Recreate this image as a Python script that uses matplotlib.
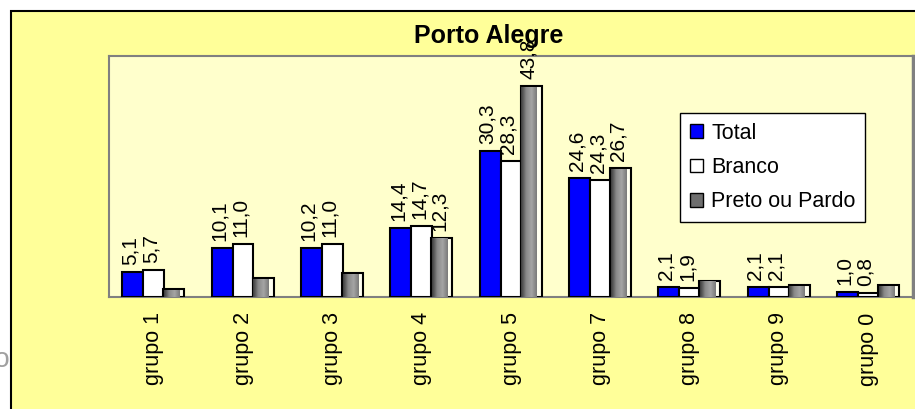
import numpy as np
import matplotlib.pyplot as plt
from matplotlib.colors import LinearSegmentedColormap
from matplotlib.patches import Rectangle, Patch

grupos = ['grupo 1', 'grupo 2', 'grupo 3', 'grupo 4', 'grupo 5',
          'grupo 7', 'grupo 8', 'grupo 9', 'grupo 0']
total = [5.1, 10.1, 10.2, 14.4, 30.3, 24.6, 2.1, 2.1, 1.0]
branco = [5.7, 11.0, 11.0, 14.7, 28.3, 24.3, 1.9, 2.1, 0.8]
preto_pardo = [1.6, 3.9, 4.9, 12.3, 43.8, 26.7, 3.4, 2.5, 2.5]
# so alguns valores de preto/pardo tem rotulo
rotula_preto = [False, False, False, True, True, True, False, False, False]
series = ['Total', 'Branco', 'Preto ou Pardo']

plt.rcParams['font.family'] = ['Liberation Sans', 'DejaVu Sans']

W, H = 915, 409
fig = plt.figure(figsize=(W / 100, H / 100), dpi=100)
fig.patch.set_facecolor('white')

# moldura amarela do grafico
fig.patches.append(Rectangle((11 / W, -0.1), 1.0, 1 - 10.5 / H + 0.1,
                             transform=fig.transFigure, facecolor='#FFFF99',
                             edgecolor='black', linewidth=1.5, zorder=-1))
fig.text(10 / W, 1 - 360 / H, 'lo', ha='right', va='center', fontsize=20,
         color='#a0a0a0', zorder=-0.5)

ax = fig.add_axes([109 / W, 1 - 297 / H, 804 / W, 241 / H])
ax.set_zorder(1)
ax.set_facecolor('#FFFFCC')
for s in ax.spines.values():
    s.set_color('#808080')
    s.set_linewidth(1.5)
ax.spines['right'].set_linewidth(2.5)

x = np.arange(len(grupos))
w = 0.235
ax.bar(x - 0.235, total, w, color='#0000FF', edgecolor='black', linewidth=1.5, zorder=3)
ax.bar(x, branco, w, color='white', edgecolor='black', linewidth=1.5, zorder=3)
ax.bar(x + 0.225, preto_pardo, w, color='#FFFFF0', edgecolor='black', linewidth=1.5, zorder=3)

# degrade cinza das barras preto/pardo
cinza = LinearSegmentedColormap.from_list('cinza', ['#3c3c3c', '#8a8a8a', '#a4a4a4', '#7a7a7a'])
grad = np.linspace(0, 1, 64).reshape(1, -1)
for xi, v in zip(x + 0.225, preto_pardo):
    left = xi - w / 2
    ax.imshow(grad, cmap=cinza, aspect='auto', zorder=3.5,
              extent=(left + 0.01, left + 0.78 * w, 0, v - 0.25))

ax.set_xlim(-0.5, 8.5)
ax.set_ylim(0, 50)


def fmt(v):
    return f'{v:.1f}'.replace('.', ',')


def rotulo(xi, v):
    ax.annotate(fmt(v), (xi, v), xytext=(-2, 5), textcoords='offset points',
                rotation=90, ha='center', va='bottom', fontsize=15, zorder=5)


for xi, v in zip(x - 0.235, total):
    rotulo(xi, v)
for xi, v in zip(x, branco):
    rotulo(xi, v)
for xi, v, r in zip(x + 0.225, preto_pardo, rotula_preto):
    if r:
        rotulo(xi, v)

ax.set_xticks(x, grupos, rotation=90, fontsize=15.5)
ax.tick_params(axis='x', length=0, pad=11)
ax.set_yticks([])

fig.text(489 / W, 1 - 36 / H, 'Porto Alegre', ha='center', va='center',
         fontsize=18, fontweight='bold')

handles = [Patch(facecolor='#0000FF', edgecolor='black'),
           Patch(facecolor='white', edgecolor='black'),
           Patch(facecolor='#6e6e6e', edgecolor='black')]
leg = ax.legend(handles, series, loc='upper left',
                bbox_to_anchor=(680 / W, 1 - 113 / H),
                bbox_transform=fig.transFigure, frameon=True,
                fancybox=False, edgecolor='black', framealpha=1, fontsize=15.5,
                handlelength=0.6, handleheight=0.6, handletextpad=0.4,
                labelspacing=0.62, borderpad=0.45, borderaxespad=0)
leg.get_frame().set_linewidth(1.0)
leg.set_zorder(10)

fig.savefig('out.png', dpi=100)
